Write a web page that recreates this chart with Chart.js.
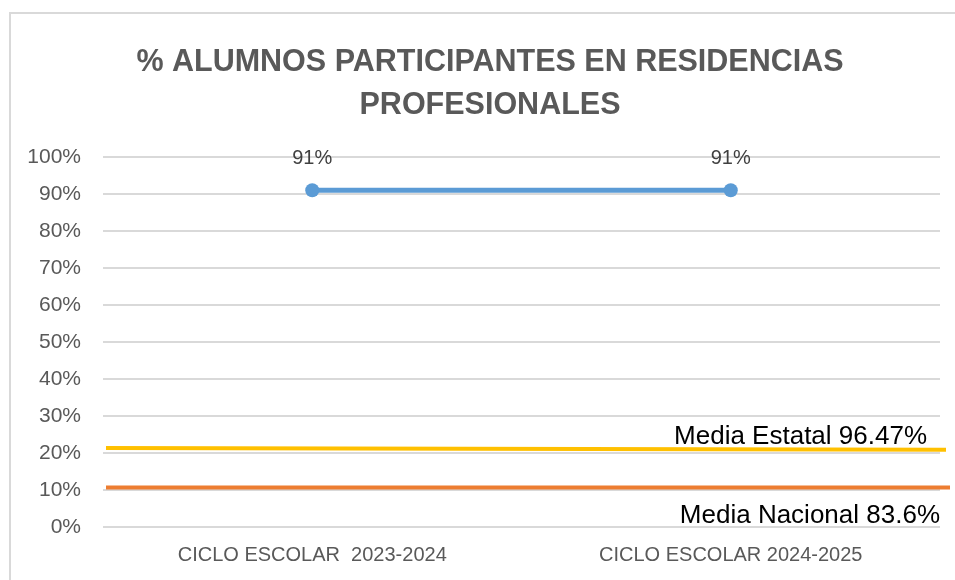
<!DOCTYPE html>
<html>
<head>
<meta charset="utf-8">
<script src="https://cdn.jsdelivr.net/npm/chart.js@4.4.0/dist/chart.umd.min.js"></script>
<style>
  html, body { margin: 0; padding: 0; background: #fff; }
  #wrap { position: relative; width: 955px; height: 580px; overflow: hidden; }
  #frame { position: absolute; left: 9px; top: 12px; width: 1000px; height: 600px;
           border-left: 2px solid #d9d9d9; border-top: 2px solid #d9d9d9; }
  canvas { position: absolute; left: 0; top: 0; }
</style>
</head>
<body>
<div id="wrap">
  <div id="frame"></div>
  <canvas id="line_chart_canvas" width="955" height="580"></canvas>
</div>
<script>
// chart data
var categorias = ['CICLO ESCOLAR  2023-2024', 'CICLO ESCOLAR 2024-2025'];
var alumnos = [91, 91];
var yTicks = [0, 10, 20, 30, 40, 50, 60, 70, 80, 90, 100];

// reference lines (start value, end value) and their captions
var mediaEstatal = [21.35, 20.9];
var mediaNacional = [10.7, 10.65];
var textoEstatal = 'Media Estatal 96.47%';
var textoNacional = 'Media Nacional 83.6%';

var baseFont = "'Liberation Sans', Arial, sans-serif";

// title sits a bit right of the canvas centre in the original
var tituloPlugin = {
    id: 'tituloShift',
    afterLayout: function(chart) {
        chart.titleBlock.left += 20;
        chart.titleBlock.right += 20;
    }
};

var mediasPlugin = {
    id: 'medias',
    beforeDatasetsDraw: function(chart) {
        var ctx = chart.ctx;
        var y = chart.scales.y;
        var area = chart.chartArea;
        var x0 = area.left + 3;
        ctx.save();
        ctx.lineWidth = 4;
        ctx.strokeStyle = '#FFC000';
        ctx.beginPath();
        ctx.moveTo(x0, y.getPixelForValue(mediaEstatal[0]));
        ctx.lineTo(area.right + 6, y.getPixelForValue(mediaEstatal[1]));
        ctx.stroke();
        ctx.strokeStyle = '#ED7D31';
        ctx.beginPath();
        ctx.moveTo(x0, y.getPixelForValue(mediaNacional[0]));
        ctx.lineTo(area.right + 10, y.getPixelForValue(mediaNacional[1]));
        ctx.stroke();

        ctx.fillStyle = '#000';
        ctx.font = '26px ' + baseFont;
        ctx.textAlign = 'right';
        ctx.textBaseline = 'alphabetic';
        ctx.fillText(textoEstatal, area.right - 13, y.getPixelForValue(mediaEstatal[1]) - 6);
        ctx.fillText(textoNacional, area.right, y.getPixelForValue(mediaNacional[1]) + 35);
        ctx.restore();
    }
};

var etiquetasPlugin = {
    id: 'etiquetas',
    afterDatasetsDraw: function(chart) {
        var ctx = chart.ctx;
        var meta = chart.getDatasetMeta(0);
        ctx.save();
        ctx.fillStyle = '#404040';
        ctx.font = '20px ' + baseFont;
        ctx.textAlign = 'center';
        ctx.textBaseline = 'middle';
        meta.data.forEach(function(pt, i) {
            ctx.fillText(alumnos[i] + '%', pt.x, pt.y - 32);
        });
        ctx.restore();
    }
};

var ctx = document.getElementById('line_chart_canvas').getContext('2d');
var chart = new Chart(ctx, {
    type: 'line',
    data: {
        labels: categorias,
        datasets: [{
            label: 'Alumnos',
            data: alumnos,
            borderColor: '#5B9BD5',
            backgroundColor: '#5B9BD5',
            borderWidth: 5,
            pointRadius: 7,
            pointHoverRadius: 7,
            pointBorderWidth: 0
        }]
    },
    options: {
        responsive: false,
        animation: false,
        layout: { padding: { left: 0, right: 15, top: 0, bottom: 0 } },
        plugins: {
            legend: { display: false },
            tooltip: { enabled: false },
            title: {
                display: true,
                text: ['% ALUMNOS PARTICIPANTES EN RESIDENCIAS', 'PROFESIONALES'],
                color: '#595959',
                font: { family: baseFont, size: 30.5, weight: 'bold', lineHeight: '43px' },
                padding: { top: 41, bottom: 30 }
            }
        },
        scales: {
            x: {
                offset: true,
                grid: { display: false, drawTicks: false },
                border: { display: false },
                ticks: { color: '#595959', font: { family: baseFont, size: 20 }, padding: 16, maxRotation: 0 },
                afterFit: function(scale) { scale.height = 53; }
            },
            y: {
                min: 0,
                max: 100,
                afterBuildTicks: function(scale) {
                    scale.ticks = yTicks.map(function(v) { return { value: v }; });
                },
                grid: { color: '#d9d9d9', lineWidth: 2, drawTicks: false },
                border: { display: false },
                ticks: {
                    color: '#595959',
                    font: { family: baseFont, size: 21 },
                    padding: 22,
                    callback: function(v) { return v + '%'; }
                },
                afterFit: function(scale) { scale.width = 103; }
            }
        }
    },
    plugins: [tituloPlugin, mediasPlugin, etiquetasPlugin]
});
</script>
</body>
</html>
